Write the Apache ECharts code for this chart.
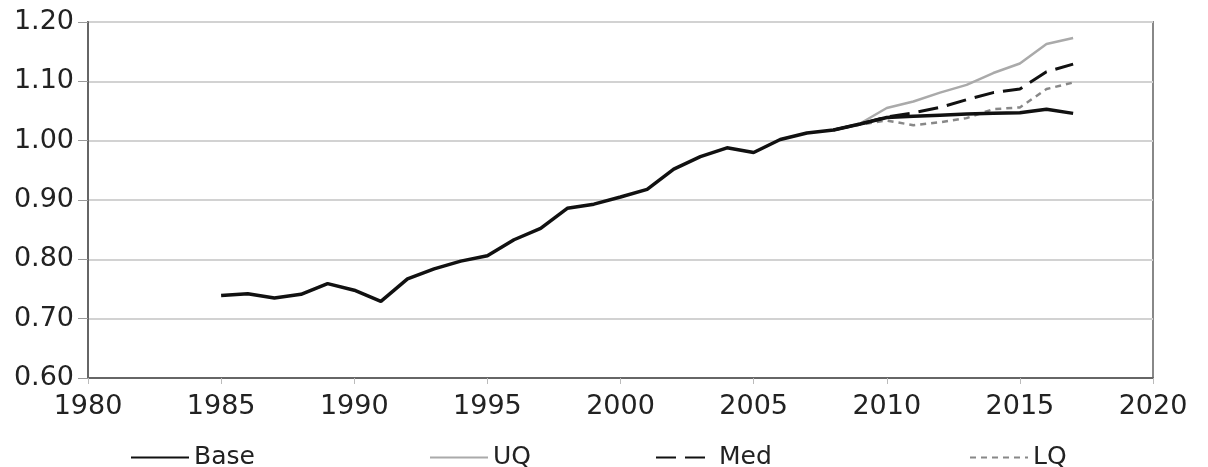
<!DOCTYPE html>
<html>
<head>
<meta charset="utf-8">
<script src="https://cdn.jsdelivr.net/npm/echarts@6/dist/echarts.min.js"></script>
<style>
html,body{margin:0;padding:0;background:#fff;}
#chart{width:1208px;height:467px;}
</style>
</head>
<body>
<div id="chart"></div>
<script>
const baseYears = [1985,1986,1987,1988,1989,1990,1991,1992,1993,1994,1995,1996,1997,1998,1999,2000,2001,2002,2003,2004,2005,2006,2007,2008,2009,2010,2011,2012,2013,2014,2015,2016,2017];
const baseValues = [0.739,0.742,0.735,0.741,0.759,0.748,0.729,0.767,0.784,0.797,0.806,0.833,0.852,0.886,0.893,0.905,0.918,0.952,0.973,0.988,0.980,1.002,1.013,1.018,1.028,1.039,1.041,1.043,1.045,1.046,1.047,1.053,1.046];
const projYears = [2008,2009,2010,2011,2012,2013,2014,2015,2016,2017];
const uqValues = [1.018,1.029,1.055,1.066,1.081,1.094,1.114,1.130,1.163,1.173];
const medValues = [1.018,1.028,1.040,1.047,1.056,1.069,1.081,1.087,1.116,1.129];
const lqValues = [1.018,1.027,1.034,1.026,1.031,1.038,1.053,1.056,1.087,1.098];
const seriesNames = ['Base','UQ','Med','LQ'];

const pairs = (xs, ys) => xs.map((x, i) => [x, ys[i]]);
const FONT = 'DejaVu Sans';

const chart = echarts.init(document.getElementById('chart'), null, {renderer: 'canvas'});
const legendCommon = {
  top: 440, itemWidth: 58, itemHeight: 14,
  itemStyle: {opacity: 0},
  textStyle: {fontFamily: FONT, fontSize: 25, color: '#222'},
  selectedMode: false
};
chart.setOption({
  animation: false,
  backgroundColor: '#fff',
  grid: {left: 88, right: 55, top: 22, bottom: 89, show: true, borderColor: '#888', borderWidth: 2},
  xAxis: {
    type: 'value', min: 1980, max: 2020, interval: 5,
    axisLine: {show: true, lineStyle: {color: '#666', width: 2}},
    axisTick: {show: true, length: 6, lineStyle: {color: '#bbb'}},
    splitLine: {show: false},
    axisLabel: {fontFamily: FONT, fontSize: 27, color: '#222', margin: 15, formatter: v => String(v)}
  },
  yAxis: {
    type: 'value', min: 0.6, max: 1.2, interval: 0.1,
    axisLine: {show: true, lineStyle: {color: '#666', width: 2}},
    axisTick: {show: true, length: 10, lineStyle: {color: '#999'}},
    splitLine: {show: true, lineStyle: {color: '#d2d2d2', width: 2}},
    axisLabel: {fontFamily: FONT, fontSize: 27, color: '#222', margin: 14, formatter: v => v.toFixed(2)}
  },
  legend: [
    Object.assign({data: [seriesNames[0]], left: 125}, legendCommon),
    Object.assign({data: [seriesNames[1]], left: 424}, legendCommon),
    Object.assign({data: [seriesNames[2]], left: 650}, legendCommon),
    Object.assign({data: [seriesNames[3]], left: 964}, legendCommon)
  ],
  series: [
    {name: seriesNames[1], type: 'line', symbol: 'none', data: pairs(projYears, uqValues),
     lineStyle: {color: '#aaaaaa', width: 2.5}, itemStyle: {color: '#aaaaaa'}, z: 2},
    {name: seriesNames[3], type: 'line', symbol: 'none', data: pairs(projYears, lqValues),
     lineStyle: {color: '#888888', width: 2.5, type: [6, 5]}, itemStyle: {color: '#888888'}, z: 3},
    {name: seriesNames[2], type: 'line', symbol: 'none', data: pairs(projYears, medValues),
     lineStyle: {color: '#111111', width: 3, type: [20, 9]}, itemStyle: {color: '#111111'}, z: 4},
    {name: seriesNames[0], type: 'line', symbol: 'none', data: pairs(baseYears, baseValues),
     lineStyle: {color: '#111111', width: 3.5}, itemStyle: {color: '#111111'}, z: 5}
  ]
});
</script>
</body>
</html>
